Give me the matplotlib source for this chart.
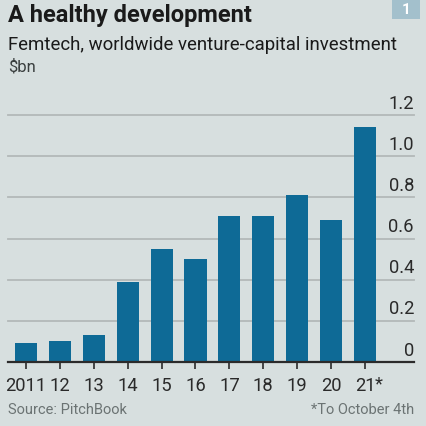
import matplotlib.pyplot as plt
import numpy as np

# VISUAL STYLE
BG_COLOR = '#d7dfdf'
BAR_COLOR = '#0e6a96'
GRID_COLOR = '#b3b9b9'
AXIS_COLOR = '#2b2b2b'
TEXT_COLOR = '#1a1a1a'
GRAY_TEXT = '#6b7373'
BADGE_COLOR = '#a3c0cc'
FONT_FAMILY = 'Roboto'

plt.rcParams.update({
    'font.family': [FONT_FAMILY, 'DejaVu Sans'],
    'figure.facecolor': BG_COLOR,
    'axes.facecolor': BG_COLOR,
    'text.color': TEXT_COLOR,
})

# DATA ($bn)
years = ['2011', '12', '13', '14', '15', '16', '17', '18', '19', '20', '21']
investment = [0.09, 0.10, 0.13, 0.39, 0.55, 0.50, 0.71, 0.71, 0.81, 0.69, 1.14]
y_ticks = [0, 0.2, 0.4, 0.6, 0.8, 1.0, 1.2]
y_tick_labels = ['0', '0.2', '0.4', '0.6', '0.8', '1.0', '1.2']

W, H = 427, 427
fig = plt.figure(figsize=(W / 100, H / 100), dpi=100)

# axes placed in pixel terms: left 8, right 414, baseline 363, top grid 116
left_px, right_px, base_px, top_px = 8, 414, 363, 116
ax = fig.add_axes([left_px / W, (H - base_px) / H,
                   (right_px - left_px) / W, (base_px - top_px) / H])
ax.set_facecolor(BG_COLOR)

x = np.arange(len(years))
spacing = 33.9
ax.set_xlim((left_px - 26) / spacing, (right_px - 26) / spacing)
ax.set_ylim(0, 1.2)

# gridlines
for t in y_ticks[1:]:
    ax.axhline(t, color=GRID_COLOR, linewidth=1.3, zorder=0, clip_on=False)

ax.bar(x, investment, width=0.65, color=BAR_COLOR, zorder=2)

# baseline
ax.axhline(0, color=AXIS_COLOR, linewidth=1.6, zorder=3, clip_on=False)

# y labels sit right-aligned above each gridline
for t, lab in zip(y_ticks, y_tick_labels):
    ax.annotate(lab, xy=(1, t), xycoords=('axes fraction', 'data'),
                xytext=(0, 2.5), textcoords='offset points',
                ha='right', va='bottom', fontsize=13.2, color='#2a2a2a')

ax.set_yticks([])
ax.set_xticks(x)
ax.set_xticklabels(years, fontsize=13.2, color='#2a2a2a')
ax.tick_params(axis='x', length=5, width=1.2, color=AXIS_COLOR, pad=5)
ax.annotate('*', xy=(x[-1], 0), xycoords='data', xytext=(7, -9),
            textcoords='offset points', ha='left', va='top', fontsize=13.2,
            color='#2a2a2a')

ax.spines[:].set_visible(False)

# titles
fig.text(8 / W, 1 - 4 / H, 'A healthy development', fontsize=17,
         fontweight='bold', ha='left', va='top')
fig.text(8 / W, 1 - 36 / H, 'Femtech, worldwide venture-capital investment',
         fontsize=13.4, ha='left', va='top')
fig.text(8 / W, 1 - 59 / H, '$bn', fontsize=12, ha='left', va='top',
         color='#3a3f3f')

# badge
fig.patches.append(plt.Rectangle((392 / W, 1 - 20 / H), 28 / W, 20 / H,
                                 transform=fig.transFigure,
                                 facecolor=BADGE_COLOR, edgecolor='none'))
fig.text(406 / W, 1 - 10 / H, '1', fontsize=11, fontweight='bold',
         color='white', ha='center', va='center')

# footer
fig.text(8 / W, 1 - 403 / H, 'Source: PitchBook', fontsize=10.5,
         color=GRAY_TEXT, ha='left', va='top')
fig.text(414 / W, 1 - 403 / H, '*To October 4th', fontsize=10.5,
         color=GRAY_TEXT, ha='right', va='top')

fig.savefig('out.png', dpi=100, facecolor=BG_COLOR)
